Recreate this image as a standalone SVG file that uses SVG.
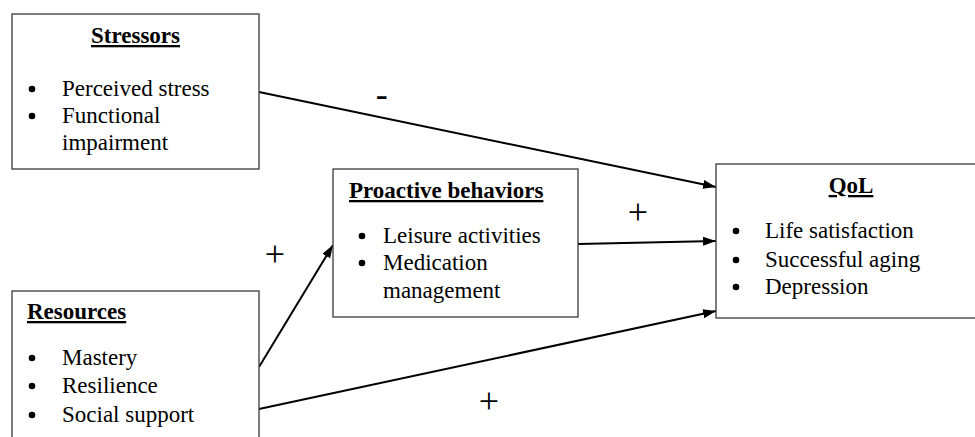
<svg xmlns="http://www.w3.org/2000/svg" width="975" height="437" viewBox="0 0 975 437">
<style>
.box{fill:#fff;stroke:#3a3a3a;stroke-width:1.3}
.t{font-family:'Liberation Serif','DejaVu Serif',serif;font-size:23px;fill:#000}
.h{font-weight:bold;text-decoration:underline}
.c{stroke:#000;stroke-width:2;fill:none;marker-end:url(#ah)}
.lbl{font-family:'Liberation Serif','DejaVu Serif',serif;fill:#000}
</style>
<defs>
<marker id="ah" markerUnits="userSpaceOnUse" markerWidth="14" markerHeight="10" refX="13" refY="4.5" orient="auto">
<path d="M0,0 L13,4.5 L0,9 z" fill="#000"/>
</marker>
</defs>
<rect width="975" height="437" fill="#fff"/>
<g id="connectors">
<line class="c" x1="259" y1="92" x2="716" y2="187"/>
<line class="c" x1="578" y1="244" x2="716" y2="241"/>
<line class="c" x1="259" y1="367" x2="333" y2="245"/>
<line class="c" x1="259" y1="409" x2="716" y2="311"/>
<text class="lbl" x="375.7" y="105.5" font-size="36">-</text>
<text class="lbl" x="275" y="266" font-size="36" text-anchor="middle">+</text>
<text class="lbl" x="638" y="224" font-size="36" text-anchor="middle">+</text>
<text class="lbl" x="489" y="413" font-size="36" text-anchor="middle">+</text>
</g>
<g id="stressors">
<rect class="box" x="12" y="14" width="247" height="155"/>
<text class="t h" x="135.5" y="43" text-anchor="middle">Stressors</text>
<circle cx="32" cy="89" r="3.3"/>
<circle cx="32" cy="116" r="3.3"/>
<text class="t" x="62" y="96">Perceived stress</text>
<text class="t" x="62" y="123">Functional</text>
<text class="t" x="62" y="150">impairment</text>
</g>
<g id="resources">
<rect class="box" x="12" y="291" width="247" height="160"/>
<text class="t h" x="27" y="319">Resources</text>
<circle cx="32" cy="358" r="3.3"/>
<circle cx="32" cy="386" r="3.3"/>
<circle cx="32" cy="415" r="3.3"/>
<text class="t" x="62" y="365">Mastery</text>
<text class="t" x="62" y="393">Resilience</text>
<text class="t" x="62" y="422">Social support</text>
</g>
<g id="proactive">
<rect class="box" x="333" y="169" width="245" height="148"/>
<text class="t h" x="349" y="198">Proactive behaviors</text>
<circle cx="362" cy="236" r="3.3"/>
<circle cx="362" cy="263" r="3.3"/>
<text class="t" x="383" y="243">Leisure activities</text>
<text class="t" x="383" y="270">Medication</text>
<text class="t" x="383" y="298">management</text>
</g>
<g id="qol">
<rect class="box" x="716" y="164" width="270" height="154"/>
<text class="t h" x="851" y="193" text-anchor="middle">QoL</text>
<circle cx="736" cy="231" r="3.3"/>
<circle cx="736" cy="260" r="3.3"/>
<circle cx="736" cy="287" r="3.3"/>
<text class="t" x="765" y="238">Life satisfaction</text>
<text class="t" x="765" y="267">Successful aging</text>
<text class="t" x="765" y="294">Depression</text>
</g>
</svg>
